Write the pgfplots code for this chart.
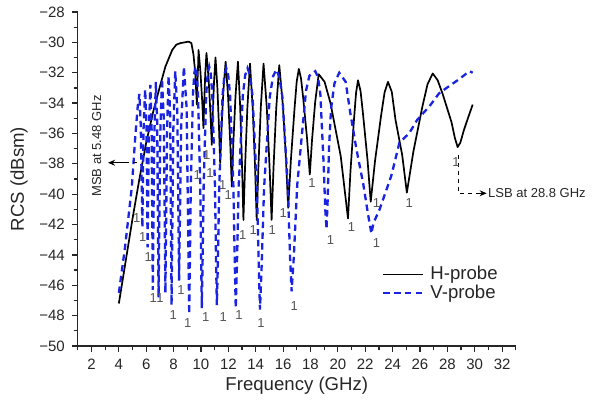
\documentclass[border=0pt]{standalone}
\usepackage{pgfplots}
\pgfplotsset{compat=1.18}
\usepackage{fontspec}
\setmainfont{Liberation Sans}
\usetikzlibrary{arrows.meta}
\definecolor{vblue}{RGB}{25,35,225}
\definecolor{lblgray}{RGB}{85,85,85}
\begin{document}
\begin{tikzpicture}
\path (-38.9pt,-29.5pt) rectangle (257.1pt,173pt);
\begin{axis}[
  scale only axis, width=219pt, height=167pt,
  at={(0pt,0pt)}, anchor=south west,
  xmin=1, xmax=33, ymin=-50, ymax=-28,
  clip=false,
  axis lines=left, axis line style={-, line width=0.7pt, black!85},
  xtick={2,4,...,32}, minor xtick={1,3,...,33},
  ytick={-50,-48,...,-28}, minor ytick={-49,-47,...,-29},
  yticklabels={−50,−48,−46,−44,−42,−40,−38,−36,−34,−32,−30,−28},
  tick align=outside, major tick length=3pt, minor tick length=1.8pt,
  tick style={line width=0.6pt, black!85},
  /pgf/number format/assume math mode=true,
  tick label style={font=\fontsize{7.5}{8}\selectfont, text=black!85},
  xlabel={Frequency (GHz)},
  ylabel={RCS (dBsm)},
  xlabel style={at={(axis description cs:0.5,-0.12)}, anchor=center, font=\fontsize{9.3}{10}\selectfont, text=black!85},
  ylabel style={at={(axis description cs:-0.134,0.5)}, anchor=center, font=\fontsize{9.3}{10}\selectfont, text=black!85},
  legend style={at={(0.694,0.186)}, anchor=west, draw=none, fill=none, font=\fontsize{9.3}{10}\selectfont, inner sep=0pt, row sep=0pt, text=black!85, nodes={inner ysep=0.6pt, inner xsep=3pt}},
  legend cell align=left,
  legend image code/.code={\draw[#1] (0pt,0pt) -- (20pt,0pt);},
]
\addplot[black, line width=0.85pt, line join=round] coordinates {
(4.0,-47.2) (4.5,-44.4) (5.0,-41.6) (5.5,-39.0) (6.0,-36.6) (6.5,-34.6) (7.0,-32.9) (7.4,-31.6) (7.9,-30.5) (8.2,-30.15) (8.5,-30.05) (8.8,-30.0) (9.1,-29.95) (9.3,-30.05) (9.45,-30.8) (9.58,-32.0) (9.70,-34.1)
(9.73,-32.88) (9.79,-31.51) (9.82,-30.5) (9.96,-31.94) (10.09,-33.90) (10.18,-35.65)
(10.235,-33.97) (10.31,-32.09) (10.40,-30.7) (10.556,-32.39) (10.69,-34.69) (10.79,-36.75)
(10.858,-34.80) (10.952,-32.61) (11.06,-31.0) (11.196,-32.95) (11.315,-35.59) (11.40,-37.95)
(11.50,-35.68) (11.64,-33.14) (11.80,-31.27) (11.98,-33.57) (12.14,-36.70) (12.25,-39.5)
(12.36,-36.70) (12.52,-33.57) (12.70,-31.27) (12.86,-34.19) (13.0,-38.15) (13.10,-41.7)
(13.22,-38.20) (13.39,-34.28) (13.58,-31.4) (13.776,-34.28) (13.95,-38.20) (14.07,-41.7)
(14.195,-38.20) (14.37,-34.28) (14.57,-31.4) (14.806,-34.28) (15.01,-38.20) (15.16,-41.7)
(15.30,-38.23) (15.496,-34.36) (15.72,-31.5) (15.98,-34.13) (16.21,-37.70) (16.37,-40.9)
(16.565,-37.79) (16.838,-34.31) (16.994,-32.57) (17.15,-31.75) (17.31,-32.38) (17.47,-33.70) (17.75,-36.34) (17.95,-38.7)
(18.11,-36.46) (18.34,-33.95) (18.6,-32.1) (19.03,-32.6) (19.46,-34.0) (20.21,-37.5) (20.74,-41.6)
(20.92,-38.5) (21.18,-35.05) (21.33,-33.32) (21.47,-32.5) (21.66,-33.22) (21.84,-34.74) (22.17,-37.78) (22.40,-40.5)
(22.715,-37.81) (23.16,-34.81) (23.41,-33.31) (23.66,-32.6) (23.94,-33.26) (24.21,-35.1) (24.70,-37.42) (25.04,-39.9)
(25.51,-37.23) (26.17,-34.25) (26.55,-32.76) (26.93,-32.05) (27.29,-32.49) (27.66,-33.41) (28.30,-35.25) (28.55,-36.3) (28.75,-36.9)
(28.95,-36.6) (29.2,-35.8) (29.5,-35.0) (29.85,-34.1)
};
\addlegendentry{H-probe}
\addplot[vblue, line width=1.15pt, dash pattern=on 3.2pt off 2.2pt] coordinates {
(4.0,-46.5) (4.45,-43.5) (4.95,-39.5) (5.2,-36.2) (5.38,-34.2) (5.5,-33.4) (5.6,-35.5) (5.72,-42.2)
(5.80,-35.8) (5.92,-33.1) (6.02,-35.6) (6.10,-43.5)
(6.19,-36.0) (6.30,-32.8) (6.39,-35.5) (6.48,-46.3)
(6.58,-36.5) (6.70,-32.6) (6.80,-35.2) (6.90,-46.8)
(7.02,-36.2) (7.15,-32.4) (7.28,-35.0) (7.40,-46.5)
(7.52,-36.0) (7.63,-32.2) (7.75,-34.8) (7.85,-47.3)
(7.98,-35.7) (8.12,-31.9) (8.27,-34.5) (8.40,-45.7)
(8.55,-35.5) (8.75,-31.6) (8.95,-34.3) (9.14,-47.9)
(9.186,-44.7) (9.255,-39.4) (9.416,-33.4) (9.51,-32.05) (9.60,-31.6) (9.69,-32.05) (9.784,-33.4) (9.945,-39.4) (10.014,-44.6) (10.06,-47.5)
(10.114,-44.6) (10.195,-39.4) (10.384,-33.4) (10.49,-32.05) (10.6,-31.6) (10.71,-32.05) (10.824,-33.4) (11.02,-39.4) (11.104,-44.6) (11.16,-47.3)
(11.229,-44.7) (11.333,-39.5) (11.574,-33.5) (11.71,-32.15) (11.85,-31.7) (11.99,-32.15) (12.126,-33.5) (12.368,-39.5) (12.471,-44.7) (12.54,-47.5)
(12.626,-44.7) (12.755,-39.5) (13.056,-33.5) (13.23,-32.15) (13.4,-31.7) (13.58,-32.15) (13.764,-33.5) (14.083,-39.5) (14.219,-44.7) (14.31,-47.6)
(14.429,-44.8) (14.608,-39.6) (15.024,-33.6) (15.26,-32.25) (15.5,-31.8) (15.72,-32.25) (15.948,-33.6) (16.34,-39.4) (16.508,-44.2) (16.62,-46.4)
(16.783,-44.1) (17.03,-39.4) (17.67,-33.2) (17.92,-32.2) (18.35,-31.9) (18.55,-32.3) (18.72,-33.4) (18.96,-38.0) (19.08,-41.0) (19.17,-42.3)
(19.25,-40.5) (19.35,-37.0) (19.5,-34.4) (19.75,-32.7) (20.1,-32.0) (20.57,-32.6) (20.9,-34.6) (21.37,-37.1) (21.85,-39.3) (22.2,-41.3) (22.45,-42.6)
(22.6,-41.9) (23.05,-41.0) (23.9,-38.8) (24.5,-36.6) (25.2,-36.0) (25.8,-35.1) (26.7,-34.2) (27.4,-33.35) (28.1,-32.9) (28.9,-32.4) (29.6,-31.9) (29.85,-32.0)
};
\addlegendentry{V-probe}
\addplot[draw=none, mark=none, forget plot, nodes near coords={1},
  every node near coord/.append style={anchor=center, inner sep=0pt, font=\fontsize{6.5}{7}\selectfont, text=lblgray}]
coordinates {
(5.30,-41.59) (9.73,-38.74) (10.42,-37.42) (10.66,-38.63) (11.58,-39.40) (11.99,-40.06) (13.05,-42.69) (13.82,-42.36) (15.21,-42.36) (16.01,-41.26) (18.11,-39.28) (21.0,-42.14) (22.83,-40.6) (25.21,-40.6) (28.63,-37.86)
(5.74,-42.8) (6.15,-44.12) (6.52,-46.86) (7.0,-46.86) (7.98,-47.96) (8.54,-46.31) (9.03,-48.51) (10.34,-48.07) (11.63,-48.07) (12.78,-47.96) (14.38,-48.51) (16.81,-47.37) (19.47,-43.02) (22.83,-43.24)
};
\draw[line width=0.5pt, -{Stealth[length=3.5pt,width=3pt]}] (axis cs:4.45,-37.93) -- (axis cs:3.21,-37.93);
\draw[line width=0.5pt, dash pattern=on 2pt off 2pt] (axis cs:4.45,-37.93) -- (axis cs:5.48,-37.93);
\node[rotate=90, font=\fontsize{6.5}{7}\selectfont, text=black!85] at (axis cs:2.38,-36.83) {MSB at 5.48 GHz};
\draw[line width=0.5pt, dash pattern=on 2pt off 2pt] (axis cs:28.8,-37.4) -- (axis cs:28.8,-39.94) -- (axis cs:30.1,-39.94);
\draw[line width=0.5pt, -{Stealth[length=3.5pt,width=3pt]}] (axis cs:30.14,-39.94) -- (axis cs:30.87,-39.94);
\node[anchor=west, inner sep=0pt, font=\fontsize{6.5}{7}\selectfont, text=black!85] at (axis cs:30.95,-39.94) {LSB at 28.8 GHz};
\end{axis}
\end{tikzpicture}
\end{document}
